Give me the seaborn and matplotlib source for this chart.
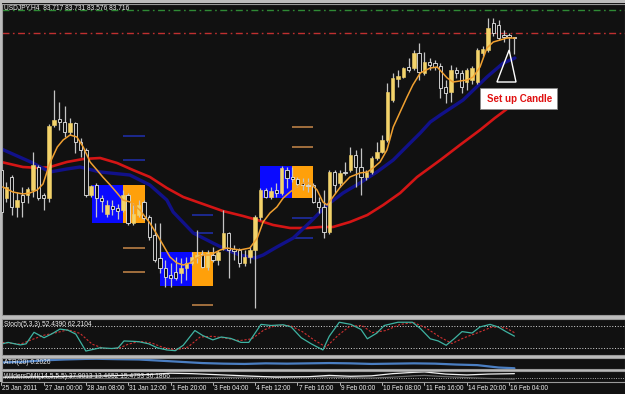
import numpy as np
import pandas as pd
import matplotlib
matplotlib.use("Agg")
import matplotlib.pyplot as plt
import matplotlib.transforms as mtransforms
from matplotlib.patches import Rectangle, Polygon
import seaborn as sns

# ---------------- data ----------------
opens = [82.530, 82.278, 82.467, 82.197, 82.305, 82.305, 82.350, 82.557, 82.305, 82.278,
         82.935, 82.989, 82.962, 82.872, 82.953, 82.782, 82.710, 82.305, 82.395, 82.278,
         82.134, 82.206, 82.188, 82.170, 82.305, 82.053, 82.125, 82.242, 82.107, 81.945,
         81.738, 81.648, 81.585, 81.612, 81.603, 81.648, 81.693, 81.747, 81.774, 81.657,
         81.765, 81.720, 81.828, 81.963, 81.819, 81.810, 81.693, 81.747, 81.810, 82.107,
         82.350, 82.287, 82.350, 82.323, 82.530, 82.467, 82.449, 82.413, 82.395, 82.395,
         82.242, 82.197, 81.972, 82.512, 82.413, 82.512, 82.530, 82.665, 82.557, 82.467,
         82.512, 82.638, 82.692, 82.800, 83.160, 83.349, 83.367, 83.457, 83.448, 83.583,
         83.403, 83.502, 83.493, 83.466, 83.277, 83.232, 83.430, 83.403, 83.322, 83.340,
         83.322, 83.583, 83.610, 83.853, 83.835, 83.745, 83.745, 83.717]
highs = [82.602, 82.422, 82.485, 82.332, 82.377, 82.377, 82.692, 82.575, 82.323, 82.944,
         83.250, 83.142, 83.106, 82.998, 82.962, 82.818, 82.728, 82.395, 82.413, 82.305,
         82.260, 82.260, 82.224, 82.350, 82.323, 82.233, 82.260, 82.260, 82.125, 82.053,
         82.053, 81.720, 81.693, 81.747, 81.738, 81.747, 81.792, 81.990, 81.810, 81.810,
         81.837, 81.810, 82.170, 81.972, 81.855, 81.828, 81.810, 81.837, 82.125, 82.368,
         82.368, 82.377, 82.413, 82.566, 82.557, 82.557, 82.467, 82.458, 82.458, 82.413,
         82.287, 82.350, 82.530, 82.530, 82.530, 82.602, 82.737, 82.710, 82.728, 82.530,
         82.656, 82.782, 82.845, 83.313, 83.403, 83.430, 83.457, 83.538, 83.610, 83.673,
         83.592, 83.538, 83.520, 83.493, 83.340, 83.475, 83.457, 83.430, 83.448, 83.466,
         83.628, 83.646, 83.898, 83.898, 83.880, 83.790, 83.763, 83.731]
lows = [82.107, 82.242, 82.125, 82.107, 82.107, 82.233, 82.287, 82.260, 82.170, 82.242,
        82.917, 82.890, 82.827, 82.845, 82.683, 82.647, 82.287, 82.287, 82.107, 82.152,
        82.107, 82.125, 82.089, 82.152, 82.035, 82.035, 82.107, 82.080, 81.900, 81.702,
        81.603, 81.477, 81.477, 81.540, 81.513, 81.540, 81.675, 81.693, 81.648, 81.630,
        81.702, 81.675, 81.810, 81.558, 81.720, 81.657, 81.666, 81.693, 81.288, 82.080,
        82.278, 82.269, 82.287, 82.305, 82.368, 82.422, 82.377, 82.350, 82.332, 82.233,
        82.143, 81.918, 81.954, 82.323, 82.377, 82.485, 82.512, 82.377, 82.305, 82.440,
        82.494, 82.620, 82.683, 82.782, 83.142, 83.277, 83.358, 83.412, 83.430, 83.340,
        83.385, 83.430, 83.430, 83.178, 83.133, 83.142, 83.358, 83.223, 83.250, 83.304,
        83.304, 83.556, 83.592, 83.736, 83.700, 83.682, 83.583, 83.576]
closes = [82.152, 82.377, 82.197, 82.260, 82.242, 82.359, 82.575, 82.278, 82.278, 82.926,
          82.980, 82.962, 82.872, 82.953, 82.782, 82.710, 82.305, 82.386, 82.278, 82.251,
          82.215, 82.179, 82.161, 82.305, 82.053, 82.134, 82.215, 82.098, 81.927, 81.720,
          81.648, 81.567, 81.558, 81.558, 81.648, 81.693, 81.747, 81.765, 81.657, 81.783,
          81.720, 81.792, 81.963, 81.810, 81.801, 81.693, 81.747, 81.810, 82.107, 82.350,
          82.287, 82.341, 82.323, 82.548, 82.458, 82.449, 82.404, 82.395, 82.386, 82.242,
          82.197, 81.972, 82.512, 82.395, 82.503, 82.503, 82.665, 82.557, 82.467, 82.512,
          82.638, 82.692, 82.800, 83.232, 83.358, 83.376, 83.448, 83.430, 83.583, 83.412,
          83.502, 83.475, 83.457, 83.268, 83.223, 83.430, 83.403, 83.277, 83.430, 83.448,
          83.610, 83.619, 83.808, 83.763, 83.718, 83.727, 83.727, 83.716]

fast_ma_x = [0.3, 2.2, 4.1, 5.4, 6.8, 7.9, 9.2, 10.6, 11.7, 13.0, 14.3, 15.5, 16.8, 18.1, 19.2,
             20.6, 21.9, 23.0, 24.4, 26.2, 28.1, 29.5, 30.6, 31.9, 33.2, 34.4, 35.7, 37.0, 38.2,
             39.5, 41.4, 42.7, 43.8, 45.1, 47.0, 48.4, 49.5, 50.8, 52.1, 53.3, 54.6, 55.9, 57.1,
             58.4, 59.7, 60.8, 61.6, 62.7, 64.1, 65.9, 67.8, 69.2, 70.3, 71.6, 72.9, 74.1, 75.4,
             76.7, 77.8, 79.2, 81.1, 82.4, 84.3, 85.4, 86.7, 88.1, 89.2, 90.5, 91.8, 93.0, 94.3,
             95.6, 97.1]
fast_ma = [82.377, 82.332, 82.314, 82.323, 82.350, 82.404, 82.593, 82.737, 82.800, 82.845,
           82.827, 82.737, 82.602, 82.530, 82.467, 82.395, 82.323, 82.260, 82.242, 82.170,
           82.053, 81.945, 81.855, 81.747, 81.693, 81.675, 81.693, 81.738, 81.765, 81.765,
           81.810, 81.828, 81.819, 81.810, 81.828, 81.918, 82.062, 82.143, 82.197, 82.278,
           82.332, 82.377, 82.413, 82.413, 82.350, 82.242, 82.215, 82.287, 82.377, 82.467,
           82.503, 82.512, 82.548, 82.602, 82.710, 82.917, 83.052, 83.187, 83.295, 83.403,
           83.448, 83.457, 83.358, 83.322, 83.331, 83.340, 83.367, 83.457, 83.628, 83.682,
           83.700, 83.718, 83.718]

blue_ma_x = [0.0, 6.0, 9.2, 12.4, 14.9, 18.7, 24.3, 28.1, 31.3, 32.5, 36.3, 40.0, 42.7, 45.1,
             48.0, 49.5, 52.1, 55.2, 58.4, 61.6, 64.6, 67.8, 71.0, 74.1, 77.3, 79.2, 81.1, 83.0,
             87.3, 91.8, 94.9, 97.1]
blue_ma = [82.720, 82.593, 82.512, 82.539, 82.557, 82.512, 82.485, 82.395, 82.260, 82.152,
           81.963, 81.873, 81.810, 81.765, 81.738, 81.765, 81.837, 81.918, 82.062, 82.215,
           82.323, 82.413, 82.512, 82.620, 82.773, 82.863, 82.962, 83.025, 83.160, 83.367,
           83.493, 83.538]

red_ma_x = [0.0, 4.1, 7.3, 9.2, 12.4, 15.5, 18.7, 21.9, 24.9, 28.1, 31.3, 34.4, 37.6, 41.9,
            45.7, 48.4, 51.4, 54.6, 57.8, 60.3, 62.7, 65.9, 69.2, 72.2, 75.4, 78.6, 83.0, 86.7,
            90.5, 93.3, 97.1]
red_ma = [82.602, 82.557, 82.548, 82.557, 82.602, 82.629, 82.638, 82.593, 82.530, 82.467,
          82.368, 82.287, 82.233, 82.161, 82.116, 82.080, 82.035, 82.008, 82.008, 82.017,
          82.017, 82.062, 82.125, 82.215, 82.323, 82.467, 82.620, 82.755, 82.890, 82.998,
          83.133]

# zone boxes
zone_start = [17.2, 30.0, 48.9]
zone_split = [23.0, 36.1, 55.0]
zone_end = [27.2, 40.0, 59.0]
zone_low = [82.053, 81.486, 82.278]
zone_high = [82.395, 81.792, 82.566]
# short level lines
level_start = [23.0, 23.0, 23.0, 23.0, 36.1, 36.1, 36.1, 55.0, 55.0, 55.0, 55.0]
level_end = [27.2, 27.2, 27.2, 27.2, 40.0, 40.0, 40.0, 59.0, 59.0, 59.0, 59.0]
level_price = [82.836, 82.620, 81.828, 81.612, 82.125, 81.963, 81.315, 82.917, 82.737, 82.098, 81.918]
level_kind = ['blue', 'blue', 'orange', 'orange', 'blue', 'blue', 'orange', 'orange', 'orange', 'blue', 'blue']

green_level = 83.970
red_level = 83.763

stoch_x = [0.2, 1.3, 3.6, 4.7, 6.2, 8.1, 9.6, 11.1, 12.6, 14.1, 16.0, 18.7, 20.9, 22.1, 23.2, 24.9,
           26.0, 27.9, 29.5, 31.3, 32.9, 34.4, 36.6, 38.1, 40.0, 41.6, 43.4, 45.3, 46.8, 49.1, 51.0,
           53.3, 54.8, 56.7, 58.6, 60.8, 62.0, 63.9, 66.1, 68.0, 69.2, 71.0, 72.4, 75.0, 77.7, 79.2,
           81.1, 82.6, 84.1, 85.6, 87.1, 89.0, 90.5, 92.4, 93.9, 95.4, 97.0]
stoch_main = [31, 35, 28, 31, 63, 48, 59, 72, 69, 58, 11, 20, 18, 20, 39, 38, 37, 31, 20, 14, 12,
              27, 68, 54, 42, 50, 46, 35, 35, 85, 82, 84, 78, 48, 31, 14, 52, 91, 85, 71, 45, 61,
              82, 91, 91, 74, 45, 39, 27, 45, 65, 61, 78, 85, 78, 65, 52.4]
signal_x = [0.2, 3.6, 6.2, 8.1, 10.4, 12.6, 14.9, 17.2, 19.4, 22.1, 24.0, 26.2, 28.5, 30.4, 33.0,
            35.3, 37.6, 39.9, 42.3, 45.1, 47.4, 49.7, 51.9, 54.6, 56.9, 59.1, 61.4, 63.7, 65.9,
            68.2, 70.1, 72.7, 75.4, 78.0, 80.3, 82.9, 85.2, 87.5, 90.1, 92.8, 95.4, 97.0]
stoch_signal = [35, 30, 45, 55, 62, 70, 60, 30, 18, 18, 30, 38, 33, 22, 14, 22, 50, 52, 47, 40,
                45, 70, 82, 82, 65, 42, 22, 55, 80, 82, 62, 68, 85, 90, 75, 50, 32, 48, 62, 78,
                75, 62.2]

atr_x = [0, 4, 8, 12, 16, 18, 22, 26, 30, 34, 38, 42, 46, 50, 54, 58, 62, 66, 70, 74, 78, 82, 86,
         90, 94, 97]
atr = [0.300, 0.310, 0.335, 0.350, 0.360, 0.362, 0.355, 0.350, 0.330, 0.310, 0.290, 0.280, 0.275,
       0.285, 0.280, 0.285, 0.290, 0.285, 0.275, 0.280, 0.285, 0.280, 0.265, 0.255, 0.215, 0.2026]

dmi_x = [0, 10, 20, 28, 32, 36, 40, 46, 52, 58, 62, 66, 70, 74, 78, 80, 84, 88, 92, 97]
dmi_plus = [22, 25, 28, 34, 40, 38, 34, 28, 22, 24, 30, 26, 28, 38, 44, 46, 36, 32, 36, 37.9]
dmi_minus = [20, 19, 16, 15, 17, 19, 20, 22, 25, 24, 22, 20, 18, 22, 28, 30, 24, 20, 16, 13.5]

tick_bars = [0, 8, 16, 24, 32, 40, 48, 56, 64, 72, 80, 88, 96]
tick_labels = ["25 Jan 2011", "27 Jan 00:00", "28 Jan 08:00", "31 Jan 12:00", "1 Feb 20:00",
               "3 Feb 04:00", "4 Feb 12:00", "7 Feb 16:00", "9 Feb 00:00", "10 Feb 08:00",
               "11 Feb 16:00", "14 Feb 20:00", "16 Feb 04:00"]

setup_text = "Set up Candle"
setup_box = [90.5, 105.1, 83.077, 83.266]
setup_triangle = [(96.0, 83.610), (93.7, 83.322), (97.3, 83.322)]

title_main = "USDJPY,H4  83.717 83.731 83.576 83.716"
title_stoch = "Stoch(5,3,3) 52.4390 62.2104"
title_atr = "ATR(20) 0.2026"
title_dmi = "WildersDMI(14,5,5,5) 37.9013 13.4652 15.4793 36.1866"

# ---------------- style ----------------
BG = '#111111'
sns.set_theme(style='dark', rc={'axes.facecolor': BG, 'figure.facecolor': BG,
                                'axes.edgecolor': '#a8a8a8', 'axes.grid': False})
FONTS = ['Liberation Sans Narrow', 'Liberation Sans', 'DejaVu Sans']
plt.rcParams['font.family'] = FONTS

W, H = 625, 394
fig = plt.figure(figsize=(W / 100, H / 100), dpi=100)


def rect(x0, y0, x1, y1):
    return [x0 / W, 1 - y1 / H, (x1 - x0) / W, (y1 - y0) / H]


ax = fig.add_axes(rect(2, 4, 625, 315))
ax_st = fig.add_axes(rect(2, 319, 625, 355), sharex=ax)
ax_atr = fig.add_axes(rect(2, 358, 625, 369), sharex=ax)
ax_dmi = fig.add_axes(rect(2, 371, 625, 382), sharex=ax)

for (y0, y1) in [(315, 319), (355, 358), (369, 371), (0, 3)]:
    fig.add_artist(Rectangle((0, 1 - y1 / H), 1, (y1 - y0) / H, transform=fig.transFigure,
                             facecolor='#bdbdbd', edgecolor='none', zorder=0))
fig.add_artist(Rectangle((0, 1 - 382 / H), 2 / W, 382 / H, transform=fig.transFigure,
                         facecolor='#bdbdbd', edgecolor='none', zorder=0))

for a in (ax, ax_st, ax_atr, ax_dmi):
    a.set_facecolor(BG)
    for s in a.spines.values():
        s.set_color('#9a9a9a')
        s.set_linewidth(0.8)

ax.set_ylim(81.225, 84.024)

for s, m, e, lo, hi in zip(zone_start, zone_split, zone_end, zone_low, zone_high):
    ax.add_patch(Rectangle((s, lo), m - s, hi - lo, facecolor='#0a0aff', edgecolor='none', zorder=1))
    ax.add_patch(Rectangle((m, lo), e - m, hi - lo, facecolor='#ffa00a', edgecolor='none', zorder=1))
for s, e, p, k in zip(level_start, level_end, level_price, level_kind):
    ax.hlines(p, s, e, color='#2030b0' if k == 'blue' else '#c8894a', lw=1.1, zorder=1.5)

ax.axhline(green_level, color='#2f8a35', lw=1.0, dashes=(5, 2.5, 1.2, 2.5), zorder=1)
ax.axhline(red_level, color='#c03030', lw=1.0, dashes=(5, 2.5, 1.2, 2.5), zorder=1)

sns.lineplot(x=red_ma_x, y=red_ma, ax=ax, color='#d41515', lw=1.9, zorder=2, estimator=None, sort=False)
sns.lineplot(x=blue_ma_x, y=blue_ma, ax=ax, color='#11118a', lw=2.4, zorder=2, estimator=None, sort=False)

o, h, l, c = map(np.array, (opens, highs, lows, closes))
idx = np.arange(len(o))
bull = c >= o
ax.vlines(idx, l, h, color='#c4c4c4', lw=0.9, zorder=3)
bottoms = np.minimum(o, c)
heights = np.maximum(np.abs(c - o), 0.008)
ax.bar(idx[bull], heights[bull], bottom=bottoms[bull], width=0.64, color='#f3d36a',
       edgecolor='#f3d36a', lw=0.4, zorder=4)
ax.bar(idx[~bull], heights[~bull], bottom=bottoms[~bull], width=0.64, color=BG,
       edgecolor='#e8e8e8', lw=0.6, zorder=4)

sns.lineplot(x=fast_ma_x, y=fast_ma, ax=ax, color='#f0a030', lw=1.1, zorder=5, estimator=None, sort=False)

ax.add_patch(Rectangle((setup_box[0], setup_box[2]), setup_box[1] - setup_box[0],
                       setup_box[3] - setup_box[2], facecolor='white', edgecolor='#888888',
                       lw=0.6, zorder=10))
ax.text(setup_box[0] + 1.3, (setup_box[2] + setup_box[3]) / 2, setup_text, color='#e01010',
        fontsize=7, fontweight='bold', ha='left', va='center', zorder=11)
ax.add_patch(Polygon(setup_triangle, closed=True, fill=False, edgecolor='white', lw=1.0, zorder=10))

ax_st.set_ylim(0, 100)
for lv in (80, 20):
    ax_st.axhline(lv, color='#d8d8d8', lw=0.7, dashes=(1, 1.8))
sns.lineplot(x=signal_x, y=stoch_signal, ax=ax_st, color='#d03030', lw=0.8,
             estimator=None, sort=False)
ax_st.lines[-1].set_dashes((2, 1.5))
sns.lineplot(x=stoch_x, y=stoch_main, ax=ax_st, color='#3fb3a2', lw=0.9, estimator=None, sort=False)

ax_atr.set_ylim(0.19, 0.375)
sns.lineplot(x=atr_x, y=atr, ax=ax_atr, color='#4a7ec2', lw=1.6, estimator=None, sort=False)

ax_dmi.set_ylim(0, 50)
ax_dmi.axhline(20, color='#d8d8d8', lw=0.6, dashes=(1, 1.8))
sns.lineplot(x=dmi_x, y=dmi_minus, ax=ax_dmi, color='#6a6a6a', lw=0.9, estimator=None, sort=False)
sns.lineplot(x=dmi_x, y=dmi_plus, ax=ax_dmi, color='#f0f0f0', lw=0.9, estimator=None, sort=False)

for a in (ax, ax_st, ax_atr, ax_dmi):
    a.set_xlabel('')
    a.set_ylabel('')
    a.set_xticks([])
    a.set_yticks([])
ax.set_xlim(0.15, 117.9)

txt_kw = dict(color='#f0f0f0', fontsize=4.8, ha='left', va='center')
fig.text(4 / W, 1 - 8 / H, title_main, **txt_kw)
fig.text(4 / W, 1 - 325 / H, title_stoch, **txt_kw)
fig.text(4 / W, 1 - 362.5 / H, title_atr, **txt_kw)
fig.text(4 / W, 1 - 376.5 / H, title_dmi, **txt_kw)

trans = mtransforms.blended_transform_factory(ax_dmi.transData, ax_dmi.transAxes)
for b, lab in zip(tick_bars, tick_labels):
    ax_dmi.plot([b, b], [0, -0.3], color='#d0d0d0', lw=0.6, transform=trans, clip_on=False)
    ax_dmi.text(b + 0.2, -0.58, lab, transform=trans, color='#f0f0f0', fontsize=4.7,
                ha='left', va='center', clip_on=False)

fig.savefig('out.png', dpi=100, facecolor=BG)
